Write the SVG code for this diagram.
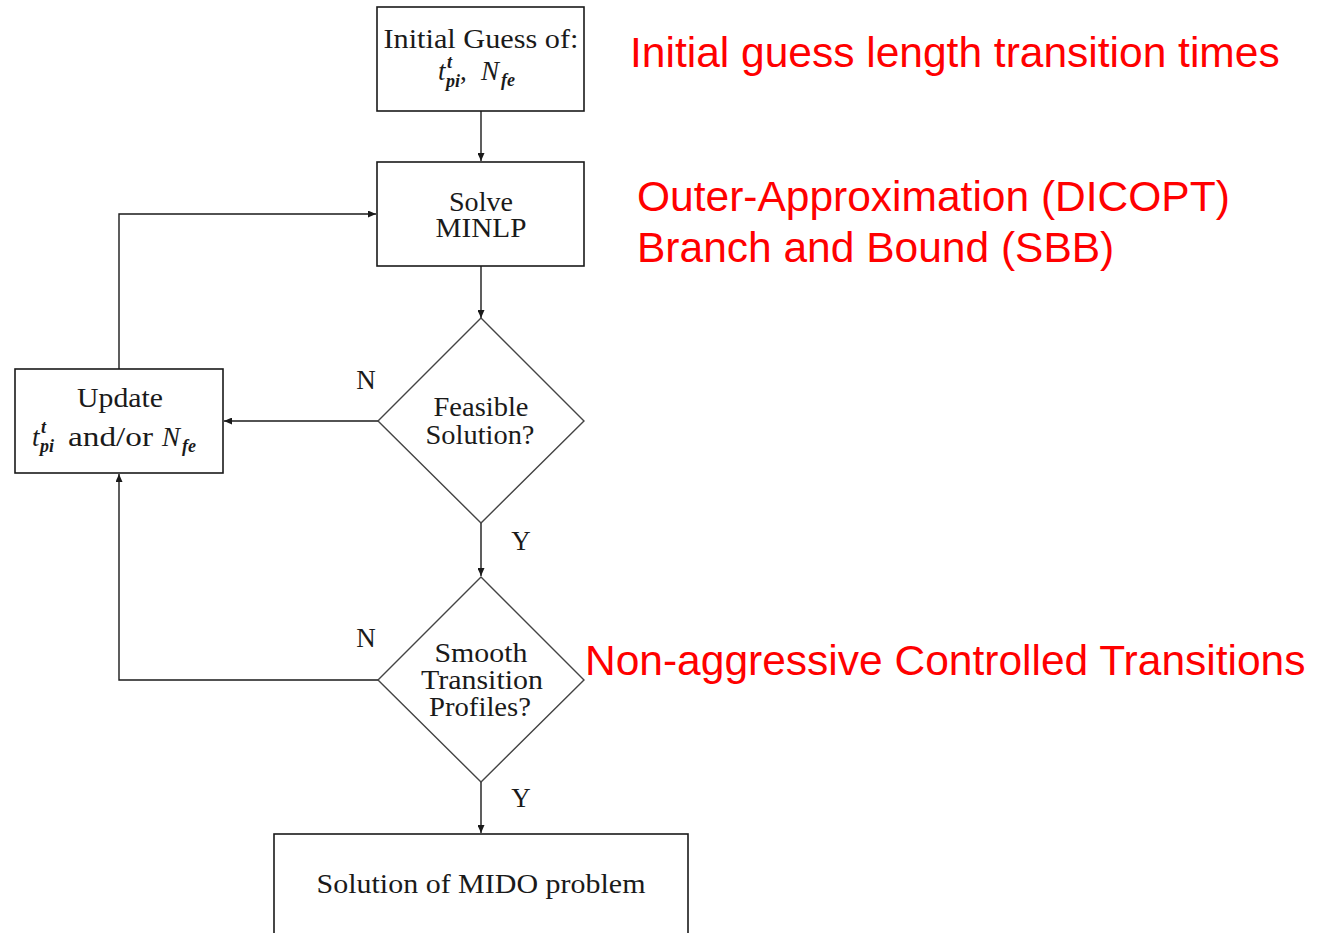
<svg xmlns="http://www.w3.org/2000/svg" width="1324" height="933" viewBox="0 0 1324 933">
<style>
.box{fill:#fff;stroke:#1a1a1a;stroke-width:1.6}
.dia{fill:#fff;stroke:#444;stroke-width:1.4}
.con{fill:none;stroke:#1a1a1a;stroke-width:1.4}
.rm{font-family:"Liberation Serif","DejaVu Serif",serif;font-size:27px;fill:#1a1a1a}
.c{text-anchor:middle}
.mi{font-family:"Liberation Serif","DejaVu Serif",serif;font-style:italic;font-size:27px;fill:#1a1a1a}
.mis{font-family:"Liberation Serif","DejaVu Serif",serif;font-style:italic;font-weight:bold;font-size:18px;fill:#1a1a1a}
.red{font-family:"Liberation Sans",Arial,sans-serif;font-size:42.5px;fill:#ff0000}
</style>
<defs>
<marker id="ah" markerUnits="userSpaceOnUse" markerWidth="9" markerHeight="7" refX="8" refY="3.5" orient="auto">
<path d="M0,0 L8,3.5 L0,7 z" fill="#1a1a1a"/>
</marker>
</defs>
<rect width="1324" height="933" fill="#fff"/>
<g id="connectors">
<path class="con" d="M481,111 V161" marker-end="url(#ah)"/>
<path class="con" d="M481,266 V318" marker-end="url(#ah)"/>
<path class="con" d="M378,421 H224" marker-end="url(#ah)"/>
<path class="con" d="M481,523 V576" marker-end="url(#ah)"/>
<path class="con" d="M378,680 H119 V474" marker-end="url(#ah)"/>
<path class="con" d="M481,782 V833" marker-end="url(#ah)"/>
<path class="con" d="M119,369 V214 H376" marker-end="url(#ah)"/>
<text class="rm c" x="366" y="389">N</text>
<text class="rm c" x="521" y="550">Y</text>
<text class="rm c" x="366" y="647">N</text>
<text class="rm c" x="521" y="807">Y</text>
</g>
<g id="initial">
<rect class="box" x="377" y="7" width="207" height="104"/>
<text class="rm c" x="481" y="48" textLength="195" lengthAdjust="spacingAndGlyphs">Initial Guess of:</text>
<text class="mi" x="438" y="80">t</text>
<text class="mis" x="447" y="68">t</text>
<text class="mis" x="446" y="87">pi</text>
<text class="rm" x="460" y="80">,</text>
<text class="mi" x="481" y="80">N</text>
<text class="mis" x="501" y="86">fe</text>
</g>
<g id="solve">
<rect class="box" x="377" y="162" width="207" height="104"/>
<text class="rm c" x="481" y="211" textLength="64" lengthAdjust="spacingAndGlyphs">Solve</text>
<text class="rm c" x="481" y="237" textLength="91" lengthAdjust="spacingAndGlyphs">MINLP</text>
</g>
<g id="feasible">
<polygon class="dia" points="481,318 584,421 481,523 378,421"/>
<text class="rm c" x="481" y="416" textLength="95" lengthAdjust="spacingAndGlyphs">Feasible</text>
<text class="rm c" x="480" y="444" textLength="109" lengthAdjust="spacingAndGlyphs">Solution?</text>
</g>
<g id="update">
<rect class="box" x="15" y="369" width="208" height="104"/>
<text class="rm c" x="120" y="407" textLength="86" lengthAdjust="spacingAndGlyphs">Update</text>
<text class="mi" x="32" y="446">t</text>
<text class="mis" x="41" y="433">t</text>
<text class="mis" x="40" y="452">pi</text>
<text class="rm" x="68" y="446" textLength="85" lengthAdjust="spacingAndGlyphs">and/or</text>
<text class="mi" x="162" y="446">N</text>
<text class="mis" x="182" y="452">fe</text>
</g>
<g id="smooth">
<polygon class="dia" points="481,577 584,680 481,782 378,680"/>
<text class="rm c" x="481" y="662" textLength="93" lengthAdjust="spacingAndGlyphs">Smooth</text>
<text class="rm c" x="482" y="689" textLength="122" lengthAdjust="spacingAndGlyphs">Transition</text>
<text class="rm c" x="480" y="716" textLength="102" lengthAdjust="spacingAndGlyphs">Profiles?</text>
</g>
<g id="solution">
<rect class="box" x="274" y="834" width="414" height="120"/>
<text class="rm c" x="481" y="893" textLength="329" lengthAdjust="spacingAndGlyphs">Solution of MIDO problem</text>
</g>
<g id="annotations">
<text class="red" x="630" y="67">Initial guess length transition times</text>
<text class="red" x="637" y="211">Outer-Approximation (DICOPT)</text>
<text class="red" x="637" y="262">Branch and Bound (SBB)</text>
<text class="red" x="585" y="675">Non-aggressive Controlled Transitions</text>
</g>
</svg>
